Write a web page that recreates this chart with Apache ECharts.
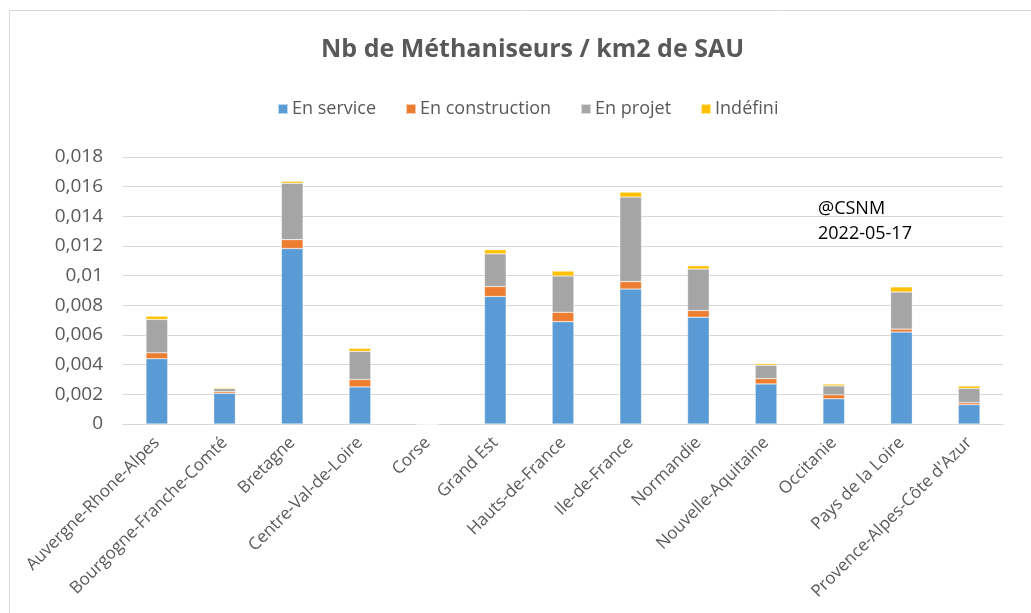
<!DOCTYPE html>
<html><head><meta charset="utf-8">
<script src="https://cdn.jsdelivr.net/npm/echarts@6/dist/echarts.min.js"></script>
<style>html,body{margin:0;padding:0;background:#fff}#c{width:1031px;height:613px}</style>
</head><body><div id="c"></div>
<script>
const categories = ["Auvergne-Rhone-Alpes","Bourgogne-Franche-Comté","Bretagne","Centre-Val-de-Loire","Corse","Grand Est","Hauts-de-France","Ile-de-France","Normandie","Nouvelle-Aquitaine","Occitanie","Pays de la Loire","Provence-Alpes-Côte d'Azur"];
const enService      = [0.0044, 0.00207, 0.01183, 0.0025, 0, 0.0086, 0.0069, 0.0091, 0.0072, 0.0027, 0.0017, 0.0062, 0.0013];
const enConstruction = [0.0004, 0.00011, 0.0006, 0.0005, 0, 0.00067, 0.00063, 0.0005, 0.00045, 0.00036, 0.00027, 0.0002, 0.00013];
const enProjet       = [0.00225, 0.0002, 0.0038, 0.0019, 0, 0.0022, 0.00245, 0.0057, 0.0028, 0.0009, 0.0006, 0.0025, 0.00097];
const indefini       = [0.00022, 0.00007, 0.00013, 0.0002, 0, 0.00028, 0.00033, 0.00033, 0.00022, 0.00011, 0.00012, 0.00034, 0.00016];
const seriesNames = ["En service","En construction","En projet","Indéfini"];
const colors = ["#5b9bd5","#ed7d31","#a5a5a5","#ffc000"];
const yTicks = ["0","0,002","0,004","0,006","0,008","0,01","0,012","0,014","0,016","0,018"];

const chart = echarts.init(document.getElementById('c'), null, {renderer:'canvas'});
const font = "'Open Sans', 'Noto Sans', sans-serif";
const data = [enService, enConstruction, enProjet, indefini];
chart.setOption({
  animation:false,
  textStyle:{fontFamily:font},
  title:{text:"Nb de Méthaniseurs / km2 de SAU", left:316, top:32,
    textStyle:{fontFamily:font, fontSize:25, fontWeight:'bold', color:'#595959'}},
  legend:{top:95, left:272, itemWidth:10, itemHeight:10, itemGap:29, icon:'rect',
    textStyle:{fontFamily:font, fontSize:18, color:'#595959', padding:[0,0,0,-1]},
    data:seriesNames},
  grid:{left:123, right:28, top:157, bottom:189, containLabel:false},
  xAxis:{type:'category', data:categories,
    axisLine:{lineStyle:{color:'#d9d9d9', width:1}}, axisTick:{show:false},
    axisLabel:{rotate:45, interval:0, fontFamily:font, fontSize:17, color:'#595959', margin:16}},
  yAxis:{type:'value', min:0, max:0.018, interval:0.002,
    axisLine:{show:false}, axisTick:{show:false},
    splitLine:{lineStyle:{color:'#d9d9d9', width:1}},
    axisLabel:{fontFamily:font, fontSize:19, color:'#595959', margin:20,
      formatter:(v)=>yTicks[Math.round(v/0.002)]}},
  graphic:[
    {type:'rect', shape:{x:9.5,y:10.5,width:1030,height:610}, style:{fill:'none', stroke:'#d9d9d9', lineWidth:1}, silent:true},
    {type:'text', left:818, top:200, style:{text:'@CSNM', font:"18px 'Open Sans', sans-serif", fill:'#000'}},
    {type:'text', left:818, top:225, style:{text:'2022-05-17', font:"18px 'Open Sans', sans-serif", fill:'#000'}}
  ],
  series: seriesNames.map((n,i)=>({
    name:n, type:'bar', stack:'total', data:data[i], barWidth:'32%',
    itemStyle:{color:colors[i], borderColor:'rgba(255,255,255,0.6)', borderWidth:0.5}
  }))
});
</script></body></html>
